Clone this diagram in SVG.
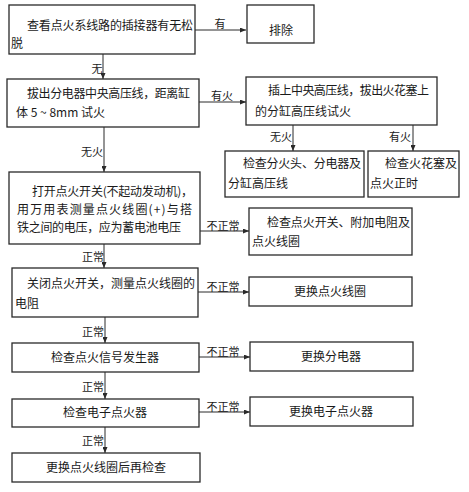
<svg xmlns="http://www.w3.org/2000/svg" width="469" height="492" viewBox="0 0 469 492">
<style>
.box{fill:#fff;stroke:#2a2a2a;stroke-width:1.3}
.t{font-family:"Noto Sans CJK SC","Noto Sans",sans-serif;font-size:12px;fill:#1a1a1a}
.c{text-anchor:middle}
.lb{font-family:"Noto Sans CJK SC","Noto Sans",sans-serif;font-size:11px;fill:#1a1a1a;text-anchor:middle}
.ln{stroke:#2a2a2a;stroke-width:1;fill:none;marker-end:url(#ah)}
</style>
<defs>
<marker id="ah" markerWidth="6" markerHeight="5" refX="6" refY="2.5" orient="auto" markerUnits="userSpaceOnUse">
<path d="M0,0 L6,2.5 L0,5 Z" fill="#2a2a2a"/>
</marker>
</defs>
<rect width="469" height="492" fill="#fff"/>
<g id="connectors">
<line class="ln" x1="195" y1="30" x2="246" y2="30"/>
<line class="ln" x1="103" y1="54" x2="103" y2="79"/>
<line class="ln" x1="199" y1="102" x2="246" y2="102"/>
<line class="ln" x1="293" y1="125" x2="293" y2="151"/>
<line class="ln" x1="413" y1="125" x2="413" y2="151"/>
<line class="ln" x1="104" y1="127" x2="104" y2="172"/>
<line class="ln" x1="200" y1="231" x2="249" y2="231"/>
<line class="ln" x1="104" y1="244" x2="104" y2="268"/>
<line class="ln" x1="198" y1="292" x2="249" y2="292"/>
<line class="ln" x1="105" y1="317" x2="105" y2="343"/>
<line class="ln" x1="199" y1="357" x2="250" y2="357"/>
<line class="ln" x1="105" y1="372" x2="105" y2="399"/>
<line class="ln" x1="199" y1="412" x2="250" y2="412"/>
<line class="ln" x1="105" y1="427" x2="105" y2="453"/>
<text class="lb" x="220" y="28">有</text>
<text class="lb" x="97" y="73">无</text>
<text class="lb" x="222" y="100">有火</text>
<text class="lb" x="281" y="141">无火</text>
<text class="lb" x="400" y="141">有火</text>
<text class="lb" x="92" y="156">无火</text>
<text class="lb" x="223" y="230">不正常</text>
<text class="lb" x="93" y="261">正常</text>
<text class="lb" x="223" y="291">不正常</text>
<text class="lb" x="93" y="336">正常</text>
<text class="lb" x="223" y="356">不正常</text>
<text class="lb" x="93" y="391">正常</text>
<text class="lb" x="223" y="411">不正常</text>
<text class="lb" x="93" y="445">正常</text>
</g>
<g id="n1">
<rect class="box" x="9" y="5" width="186" height="49"/>
<text class="t" x="27" y="30" textLength="166" lengthAdjust="spacing">查看点火系线路的插接器有无松</text>
<text class="t" x="11" y="48">脱</text>
</g>
<g id="n2">
<rect class="box" x="247" y="5" width="67" height="38"/>
<text class="t c" x="281" y="35">排除</text>
</g>
<g id="n3">
<rect class="box" x="7" y="79" width="192" height="48"/>
<text class="t" x="27" y="98" textLength="163" lengthAdjust="spacing">拔出分电器中央高压线，距离缸</text>
<text class="t" x="16" y="117">体 5 ~ 8mm 试火</text>
</g>
<g id="n4">
<rect class="box" x="246" y="77" width="191" height="48"/>
<text class="t" x="268" y="95" textLength="161" lengthAdjust="spacing">插上中央高压线，拔出火花塞上</text>
<text class="t" x="255" y="116">的分缸高压线试火</text>
</g>
<g id="n5">
<rect class="box" x="225" y="151" width="139" height="46"/>
<text class="t" x="243" y="168" textLength="118" lengthAdjust="spacing">检查分火头、分电器及</text>
<text class="t" x="228" y="188">分缸高压线</text>
</g>
<g id="n6">
<rect class="box" x="368" y="151" width="91" height="46"/>
<text class="t" x="385" y="168">检查火花塞及</text>
<text class="t" x="370" y="188">点火正时</text>
</g>
<g id="n7">
<rect class="box" x="9" y="172" width="191" height="72"/>
<text class="t" x="32" y="196" textLength="161" lengthAdjust="spacing">打开点火开关(不起动发动机)，</text>
<text class="t" x="17" y="214" textLength="175" lengthAdjust="spacing">用万用表测量点火线圈(+)与搭</text>
<text class="t" x="17" y="232" textLength="164" lengthAdjust="spacing">铁之间的电压，应为蓄电池电压</text>
</g>
<g id="n8">
<rect class="box" x="249" y="208" width="163" height="47"/>
<text class="t" x="267" y="227" textLength="143" lengthAdjust="spacing">检查点火开关、附加电阻及</text>
<text class="t" x="252" y="246">点火线圈</text>
</g>
<g id="n9">
<rect class="box" x="12" y="268" width="186" height="49"/>
<text class="t" x="27" y="288" textLength="168" lengthAdjust="spacing">关闭点火开关，测量点火线圈的</text>
<text class="t" x="15" y="308">电阻</text>
</g>
<g id="n10">
<rect class="box" x="249" y="277" width="163" height="29"/>
<text class="t c" x="330" y="296">更换点火线圈</text>
</g>
<g id="n11">
<rect class="box" x="12" y="343" width="187" height="29"/>
<text class="t c" x="105" y="362">检查点火信号发生器</text>
</g>
<g id="n12">
<rect class="box" x="250" y="342" width="163" height="29"/>
<text class="t c" x="331" y="361">更换分电器</text>
</g>
<g id="n13">
<rect class="box" x="12" y="399" width="187" height="28"/>
<text class="t c" x="105" y="417">检查电子点火器</text>
</g>
<g id="n14">
<rect class="box" x="250" y="397" width="163" height="29"/>
<text class="t c" x="331" y="416">更换电子点火器</text>
</g>
<g id="n15">
<rect class="box" x="12" y="453" width="188" height="29"/>
<text class="t c" x="106" y="472">更换点火线圈后再检查</text>
</g>
</svg>
